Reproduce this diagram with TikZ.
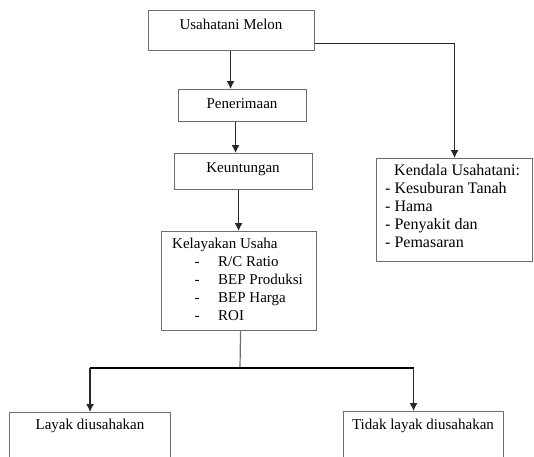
\documentclass[tikz,border=0pt]{standalone}
\usepackage{fontspec}
\setmainfont{Liberation Serif}
\usepackage{xcolor}
\usetikzlibrary{arrows.meta}
\usetikzlibrary{math}
\definecolor{boxgray}{RGB}{110,110,110}
\definecolor{linegray}{RGB}{40,40,40}

\begin{document}
\begin{tikzpicture}[x=1pt,y=-1pt,
 box/.style={draw=boxgray, line width=1.1pt, anchor=north west, inner sep=0pt},
 txt/.style={font=\fontsize{15}{18}\selectfont, inner sep=0pt},
 conn/.style={-{Latex[length=8pt,width=8pt]}, draw=linegray, line width=1.2pt}]

\tikzmath{
\ls = 18;%line spacing
\yK = 175;%first line Kendala
\yL = 248;%first line Kelayakan
}

\clip (0,0) rectangle (534,456);

%boxes
\node[box, minimum width=166, minimum height=40] (melon) at (148,10) {};
\node[box, minimum width=128, minimum height=32] (terima) at (178,89) {};
\node[box, minimum width=138, minimum height=36] (untung) at (174,153) {};
\node[box, minimum width=155, minimum height=99] (layak) at (161,231) {};
\node[box, minimum width=156, minimum height=103] (kendala) at (376,158) {};
\node[box, minimum width=161, minimum height=70] (ya) at (9,412) {};
\node[box, minimum width=160, minimum height=70] (tidak) at (343,411) {};

%texts
\node[txt, anchor=base] (melonT) at (231,29.5) {Usahatani Melon};
\node[txt, anchor=base] (terimaT) at (242,108) {Penerimaan};
\node[txt, anchor=base] (untungT) at (243,172) {Keuntungan};
\node[txt, anchor=base] (yaT) at (90,429) {Layak diusahakan};
\node[txt, anchor=base] (tidakT) at (423,429) {Tidak layak diusahakan};

\node[txt, anchor=base west] (layakT) at (172,\yL) {Kelayakan Usaha};
\foreach \t [count=\i] in {R/C Ratio, BEP Produksi, BEP Harga, ROI}{
 \node[txt, anchor=base] (dash\i) at (197,\yL+\i*\ls) {-};
 \node[txt, anchor=base west] (ukur\i) at (218,\yL+\i*\ls) {\t};
}

\node[txt, font=\fontsize{16}{19}\selectfont, anchor=base west] (kendalaT) at (394,\yK) {Kendala Usahatani:};
\foreach \t [count=\i] in {Kesuburan Tanah, Hama, Penyakit dan, Pemasaran}{
 \node[txt, font=\fontsize{16}{19}\selectfont, anchor=base west] (masalah\i) at (385,\yK+\i*\ls) {- \t};
}

%arrows
\draw[conn] ([xshift=-1pt]melon.south) -- ([xshift=-1pt]melon.south |- terima.north);
\draw[conn] ([xshift=-7pt]terima.south) -- ([xshift=-7pt]terima.south |- untung.north);
\draw[conn] ([xshift=-5pt]untung.south) -- ([xshift=-5pt]untung.south |- layak.north);
\draw[conn] ([yshift=-13pt]melon.east) -| (kendala.north);

%split
\coordinate (split) at (240,368);
\draw[draw=boxgray, line width=1.2pt] ([xshift=1.5pt]layak.south) -- (split);
\draw[line width=1.8pt] (ya.north |- split) -- ([xshift=-10pt]tidak.north |- split);
\draw[conn] (ya.north |- split) -- (ya.north);
\draw[conn] ([xshift=-10pt]tidak.north |- split) -- ([xshift=-10pt]tidak.north);

\end{tikzpicture}
\end{document}
